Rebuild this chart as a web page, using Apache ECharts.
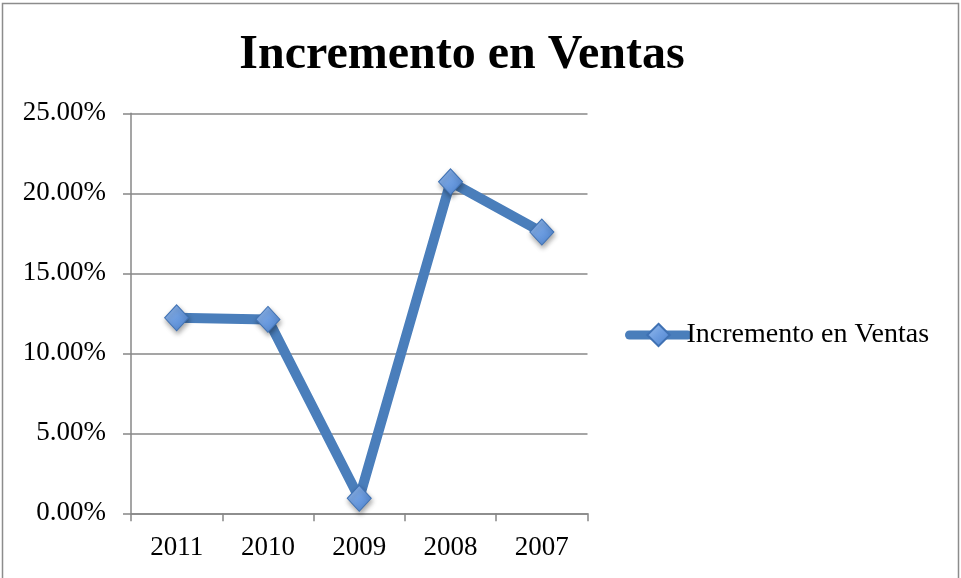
<!DOCTYPE html>
<html>
<head>
<meta charset="utf-8">
<script src="https://cdn.jsdelivr.net/npm/echarts@6/dist/echarts.min.js"></script>
<style>
  html, body { margin: 0; padding: 0; background: #fff; }
  #chart { width: 961px; height: 578px; }
</style>
</head>
<body>
<div id="chart"></div>
<script>
// chart data
const years = ['2011', '2010', '2009', '2008', '2007']
const incremento = [0.1222, 0.1212, 0.0094, 0.2072, 0.1758]
const seriesName = 'Incremento en Ventas'

const fontFam = '"Liberation Serif", "DejaVu Serif", serif'
const gridGray = '#878787'

const chart = echarts.init(document.getElementById('chart'))
chart.setOption({
  backgroundColor: '#fff',
  animation: false,
  title: {
    text: 'Incremento en Ventas',
    left: 457,
    textAlign: 'center',
    top: 27,
    textStyle: {
      fontFamily: fontFam,
      fontWeight: 'bold',
      fontSize: 48,
      color: '#000'
    }
  },
  legend: {
    left: 620,
    top: 316,
    itemWidth: 58,
    itemHeight: 28,
    itemGap: 0,
    lineStyle: { width: 9, cap: 'round' },
    textStyle: {
      fontFamily: fontFam,
      fontSize: 28,
      color: '#000',
      padding: [0, 0, 0, -6]
    },
    data: [seriesName]
  },
  grid: {
    left: 131,
    right: 373.5,
    top: 113.3,
    bottom: 64.7,
    containLabel: false
  },
  xAxis: {
    type: 'category',
    data: years,
    boundaryGap: true,
    axisLine: { lineStyle: { color: gridGray, width: 1.5 } },
    axisTick: { show: true, length: 8, alignWithLabel: false, lineStyle: { color: gridGray, width: 1.5 } },
    axisLabel: {
      fontFamily: fontFam,
      fontSize: 27,
      color: '#000',
      margin: 21
    }
  },
  yAxis: {
    type: 'value',
    min: 0,
    max: 0.25,
    interval: 0.05,
    axisLine: { show: true, lineStyle: { color: gridGray, width: 1.5 } },
    axisTick: { show: true, length: 8, lineStyle: { color: gridGray, width: 1.5 } },
    splitLine: { lineStyle: { color: gridGray, width: 1.5 } },
    axisLabel: {
      fontFamily: fontFam,
      fontSize: 27,
      color: '#000',
      margin: 25,
      formatter: function (v) {
        return (v * 100).toFixed(2) + '%'
      }
    }
  },
  series: [{
    name: seriesName,
    type: 'line',
    data: incremento,
    symbol: 'diamond',
    symbolSize: [24, 26],
    showAllSymbol: true,
    lineStyle: {
      color: '#4a7ebb',
      width: 10,
      cap: 'round',
      join: 'round'
    },
    itemStyle: {
      color: new echarts.graphic.LinearGradient(0, 0, 1, 1, [
        { offset: 0, color: '#9bbfee' },
        { offset: 0.5, color: '#6d9de0' },
        { offset: 1, color: '#4a80cc' }
      ]),
      borderColor: '#3f71b3',
      borderWidth: 1,
      shadowColor: 'rgba(0,0,0,0.35)',
      shadowBlur: 5,
      shadowOffsetX: 1,
      shadowOffsetY: 3
    },
    z: 3
  }],
  graphic: [{
    type: 'polyline',
    silent: true,
    shape: { points: [[2.5, 578], [2.5, 3.5], [958.5, 3.5], [958.5, 578]] },
    style: { stroke: '#8c8c8c', lineWidth: 1.5, fill: null }
  }]
})
</script>
</body>
</html>
